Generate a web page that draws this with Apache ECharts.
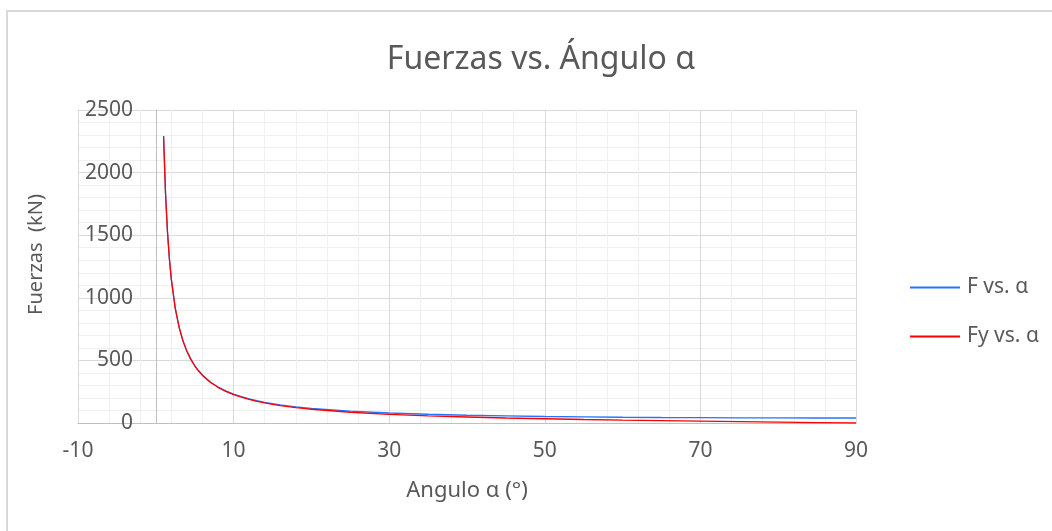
<!DOCTYPE html>
<html>
<head>
<meta charset="utf-8">
<script src="https://cdn.jsdelivr.net/npm/echarts@6/dist/echarts.min.js"></script>
<style>
html,body{margin:0;padding:0;background:#fff;}
#chart{width:1052px;height:531px;}
</style>
</head>
<body>
<div id="chart"></div>
<script>
// Angle values (degrees)
const angles = [1,1.25,1.5,1.75,2,2.5,3,3.5,4,4.5,5,5.5,6,7,8,9,10,11,12,13,14,15,16,17,18,19,20,25,30,35,40,45,50,55,60,65,70,75,80,85,90];
// F vs. alpha (kN)
const fValues = [2292,1834,1528,1310,1146,917,764,655,573,510,459,417,383,328,287,256,230,210,192,178,165,155,145,137,129,123,117,95,80,70,62,57,52,49,46,44,43,41,41,40,40];
// Fy vs. alpha (kN)
const fyValues = [2291,1833,1528,1309,1145,916,763,654,572,508,457,415,380,326,285,253,227,206,188,173,160,149,139,131,123,116,110,86,69,57,48,40,34,28,23,19,15,11,7,3.5,0];
const seriesNames = ['F vs. α', 'Fy vs. α'];
const titleText = 'Fuerzas vs. Ángulo α';
const xName = 'Angulo α (°)';
const yName = 'Fuerzas  (kN)';

const font = '"Noto Sans", "DejaVu Sans", sans-serif';
const textColor = '#595959';

const chart = echarts.init(document.getElementById('chart'), null, {renderer: 'canvas'});
chart.setOption({
  backgroundColor: '#fff',
  animation: false,
  graphic: [{
    type: 'rect',
    shape: {x: 7, y: 11, width: 1100, height: 600},
    style: {fill: 'none', stroke: '#d9d9d9', lineWidth: 2},
    silent: true
  }],
  title: {
    text: titleText,
    left: 536,
    top: 39,
    textAlign: 'center',
    textStyle: {fontFamily: font, fontSize: 32, fontWeight: 'normal', color: textColor}
  },
  legend: {
    orient: 'vertical',
    left: 910,
    top: 277,
    padding: 0,
    itemWidth: 50,
    itemHeight: 2,
    itemGap: 28,
    icon: 'rect',
    textStyle: {fontFamily: font, fontSize: 21, color: textColor, padding: [0,0,0,2]},
    data: seriesNames
  },
  grid: {left: 78, right: 196, top: 110, bottom: 108, containLabel: false, outerBoundsMode: 'none'},
  xAxis: {
    type: 'value',
    min: -10, max: 90, interval: 20,
    name: xName,
    nameLocation: 'middle',
    nameGap: 57,
    nameTextStyle: {fontFamily: font, fontSize: 22, color: textColor},
    axisLine: {show: true, onZero: false, lineStyle: {color: '#bfbfbf', width: 1}},
    axisTick: {show: false},
    axisLabel: {fontFamily: font, fontSize: 21, color: textColor, margin: 18},
    splitLine: {show: true, lineStyle: {color: '#d9d9d9', width: 1}},
    minorTick: {show: false, splitNumber: 5},
    minorSplitLine: {show: true, lineStyle: {color: '#f0f0f0', width: 1}}
  },
  yAxis: {
    type: 'value',
    min: 0, max: 2500, interval: 500,
    name: yName,
    nameLocation: 'middle',
    nameGap: 32,
    nameRotate: 90,
    nameTextStyle: {fontFamily: font, fontSize: 20, color: textColor, padding: [0, 0, 0, 24]},
    axisLine: {show: true, onZero: true, lineStyle: {color: '#bfbfbf', width: 1}},
    axisTick: {show: false},
    axisLabel: {fontFamily: font, fontSize: 21, color: textColor, margin: -55, formatter: v => String(v)},
    splitLine: {show: true, lineStyle: {color: '#d9d9d9', width: 1}},
    minorTick: {show: false, splitNumber: 5},
    minorSplitLine: {show: true, lineStyle: {color: '#f0f0f0', width: 1}}
  },
  series: [
    {
      name: seriesNames[0],
      type: 'line',
      data: angles.map((a, i) => [a, fValues[i]]),
      showSymbol: false,
      symbol: 'none',
      lineStyle: {color: '#2474ff', width: 1.3},
      itemStyle: {color: '#2474ff'}
    },
    {
      name: seriesNames[1],
      type: 'line',
      data: angles.map((a, i) => [a, fyValues[i]]),
      showSymbol: false,
      symbol: 'none',
      lineStyle: {color: '#ff0000', width: 1.3},
      itemStyle: {color: '#ff0000'}
    }
  ]
});
</script>
</body>
</html>
